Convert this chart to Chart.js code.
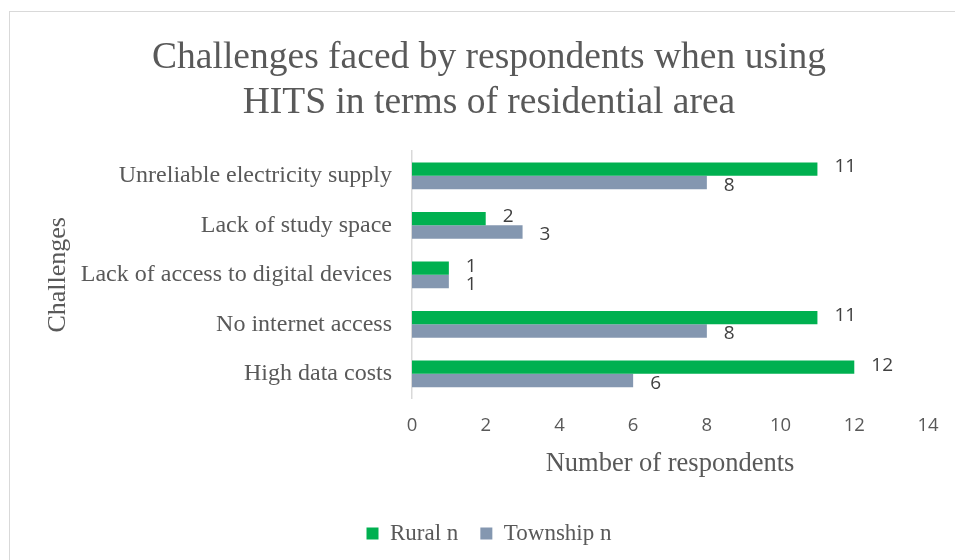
<!DOCTYPE html>
<html>
<head>
<meta charset="utf-8">
<script src="https://cdn.jsdelivr.net/npm/chart.js@4"></script>
<style>
  html, body { margin: 0; padding: 0; background: #fff; overflow: hidden; }
  #wrap { position: relative; width: 955px; height: 560px; }
  #frame {
    position: absolute; left: 9px; top: 11px; width: 980px; height: 600px;
    border: 1.5px solid #d9d9d9; box-sizing: border-box;
  }
  #c { position: absolute; left: 0; top: 0; }
</style>
</head>
<body>
<div id="wrap">
  <div id="frame"></div>
  <canvas id="c" width="955" height="560"></canvas>
</div>
<script>
  // Données
  const challenges = [
    "Unreliable electricity supply",
    "Lack of study space",
    "Lack of access to digital devices",
    "No internet access",
    "High data costs"
  ];
  const ruralN = [11, 2, 1, 11, 12];
  const townshipN = [8, 3, 1, 8, 6];
  const xTicks = [0, 2, 4, 6, 8, 10, 12, 14];

  const serif = "'Liberation Serif', 'Times New Roman', serif";
  const sans = "'Open Sans', 'Liberation Sans', sans-serif";
  const grey = "#595959";

  // étiquettes de valeurs (pas de plugin datalabels dispo)
  const valueLabels = {
    id: "valueLabels",
    afterDatasetsDraw(chart) {
      const ctx = chart.ctx;
      ctx.save();
      ctx.font = "19px " + sans;
      ctx.fillStyle = "#404040";
      ctx.textAlign = "left";
      ctx.textBaseline = "middle";
      chart.data.datasets.forEach((ds, i) => {
        const meta = chart.getDatasetMeta(i);
        const dy = i === 0 ? -2 : 3;
        meta.data.forEach((bar, j) => {
          ctx.fillText(String(ds.data[j]), bar.x + 17, bar.y + dy);
        });
      });
      ctx.restore();
    }
  };

  new Chart(document.getElementById("c"), {
    type: "bar",
    data: {
      labels: challenges,
      datasets: [
        { label: "Rural n", data: ruralN, backgroundColor: "#00b050" },
        { label: "Township n", data: townshipN, backgroundColor: "#8497b0" }
      ]
    },
    options: {
      indexAxis: "y",
      responsive: false,
      animation: false,
      layout: { padding: { left: 23, right: 0, top: 0, bottom: 5 } },
      datasets: { bar: { categoryPercentage: 0.54, barPercentage: 1.0 } },
      plugins: {
        tooltip: { enabled: false },
        title: {
          display: true,
          text: ["Challenges faced by respondents when using", "HITS in terms of residential area"],
          color: grey,
          font: { family: serif, size: 37.5, weight: "normal", lineHeight: 1.2 },
          padding: { top: 36, bottom: 25 }
        },
        legend: {
          position: "bottom",
          labels: {
            color: grey,
            font: { family: serif, size: 23 },
            boxWidth: 12,
            boxHeight: 12,
            padding: 22
          }
        }
      },
      scales: {
        x: {
          min: 0,
          max: 14,
          afterBuildTicks: (s) => { s.ticks = xTicks.map((v) => ({ value: v })); },
          afterFit: (s) => { s.height = 101.4; s.paddingRight = 27; },
          grid: { display: false, drawTicks: false },
          border: { display: false },
          ticks: { color: grey, font: { family: sans, size: 18.5 }, padding: 16.5 },
          title: {
            display: true,
            text: "Number of respondents",
            color: grey,
            font: { family: serif, size: 26.5, lineHeight: 1.2 },
            padding: { top: 0, bottom: 20.5 }
          }
        },
        y: {
          afterFit: (s) => { s.width = 389; },
          grid: { display: false, drawTicks: false },
          border: { display: true, color: "#d9d9d9", width: 1.5 },
          ticks: { color: grey, font: { family: serif, size: 24 }, padding: 20 },
          title: {
            display: true,
            text: "Challenges",
            color: grey,
            font: { family: serif, size: 26, lineHeight: 1.2 },
            padding: { top: 19.4, bottom: 0 }
          }
        }
      }
    },
    plugins: [valueLabels]
  });
</script>
</body>
</html>
